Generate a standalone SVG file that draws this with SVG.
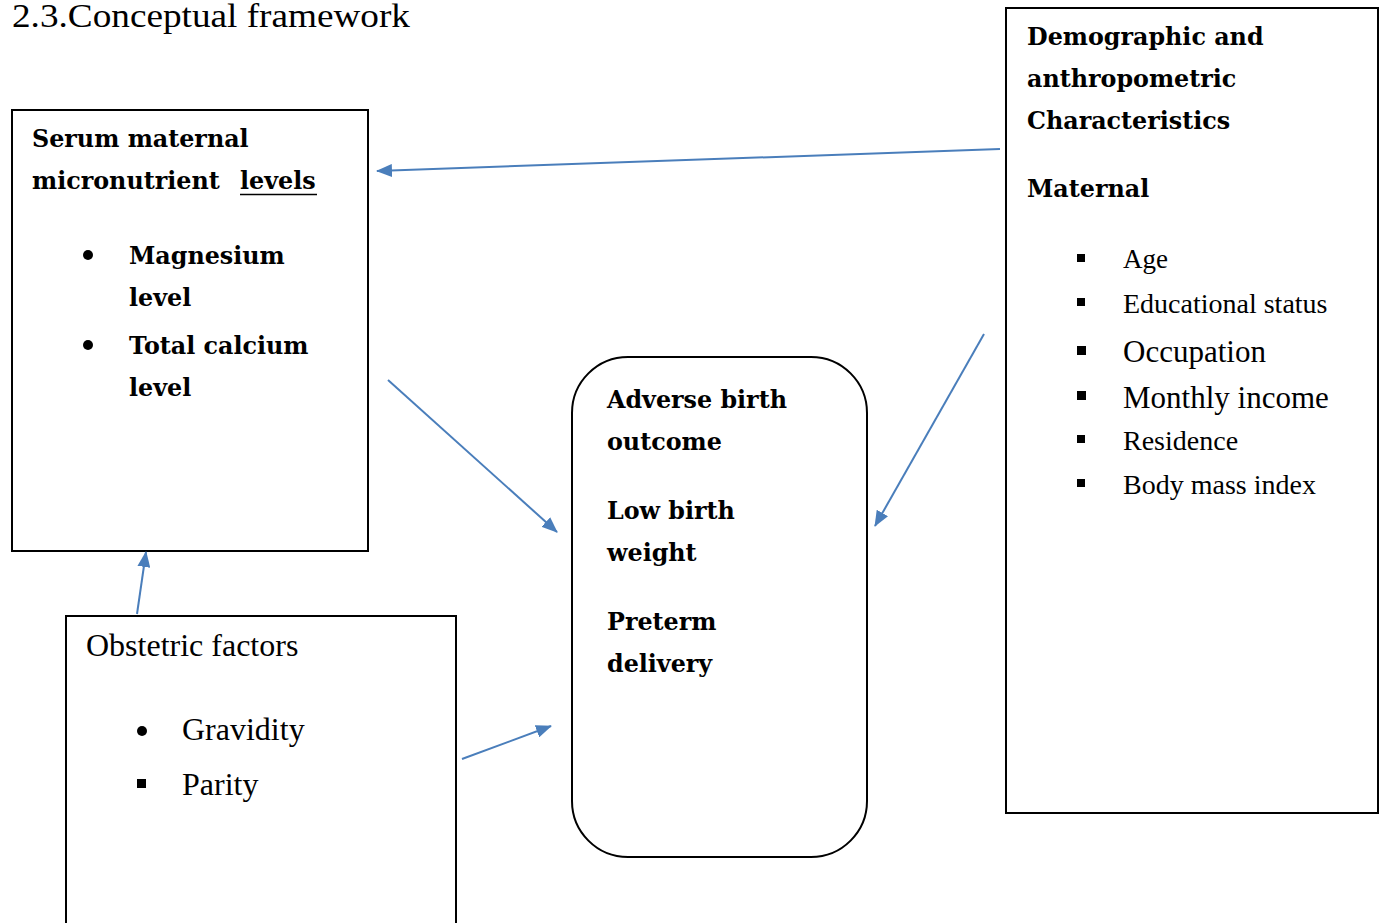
<svg xmlns="http://www.w3.org/2000/svg" width="1385" height="923" viewBox="0 0 1385 923">
<style>
.box{fill:#fff;stroke:#000;stroke-width:2}
.b{font-family:"DejaVu Serif","Liberation Serif",serif;font-weight:bold;font-size:23.8px;fill:#000}
.r{font-family:"Liberation Serif",serif;fill:#000}
.c{stroke:#4a7ebb;stroke-width:2;fill:none;marker-end:url(#ah)}
</style>
<defs>
<marker id="ah" markerUnits="userSpaceOnUse" markerWidth="16" markerHeight="13" refX="15" refY="6.5" orient="auto">
<path d="M0,0 L16,6.5 L0,13 z" fill="#4a7ebb"/>
</marker>
</defs>
<rect width="1385" height="923" fill="#fff"/>
<text x="12" y="27" class="r" font-size="33" textLength="398" lengthAdjust="spacingAndGlyphs">2.3.Conceptual framework</text>

<g id="serum">
<rect class="box" x="12" y="110" width="356" height="441"/>
<text class="b" x="32" y="147">Serum maternal</text>
<text class="b" x="32" y="189">micronutrient<tspan x="240">levels</tspan></text>
<line x1="240" y1="194.5" x2="317" y2="194.5" stroke="#000" stroke-width="1.5"/>
<circle cx="88" cy="255" r="5"/>
<text class="b" x="129" y="264">Magnesium</text>
<text class="b" x="129" y="306">level</text>
<circle cx="88" cy="345" r="5"/>
<text class="b" x="129" y="354">Total calcium</text>
<text class="b" x="129" y="396">level</text>
</g>

<g id="demographic">
<rect class="box" x="1006" y="8" width="372" height="805"/>
<text class="b" x="1027" y="45">Demographic and</text>
<text class="b" x="1027" y="87">anthropometric</text>
<text class="b" x="1027" y="129">Characteristics</text>
<text class="b" x="1027" y="197">Maternal</text>
<rect x="1077" y="254" width="8" height="8"/>
<text class="r" x="1123" y="268" font-size="27">Age</text>
<rect x="1077" y="298" width="8" height="8"/>
<text class="r" x="1123" y="313" font-size="28">Educational status</text>
<rect x="1077" y="346" width="9" height="9"/>
<text class="r" x="1123" y="362" font-size="31">Occupation</text>
<rect x="1077" y="391" width="9" height="9"/>
<text class="r" x="1123" y="408" font-size="31">Monthly income</text>
<rect x="1077" y="435" width="8" height="8"/>
<text class="r" x="1123" y="450" font-size="28">Residence</text>
<rect x="1077" y="479" width="8" height="8"/>
<text class="r" x="1123" y="494" font-size="28">Body mass index</text>
</g>

<g id="outcome">
<rect class="box" x="572" y="357" width="295" height="500" rx="56" ry="56"/>
<text class="b" x="607" y="408">Adverse birth</text>
<text class="b" x="607" y="450">outcome</text>
<text class="b" x="607" y="519">Low birth</text>
<text class="b" x="607" y="561">weight</text>
<text class="b" x="607" y="630">Preterm</text>
<text class="b" x="607" y="672">delivery</text>
</g>

<g id="obstetric">
<rect class="box" x="66" y="616" width="390" height="320"/>
<text class="r" x="86" y="656" font-size="32">Obstetric factors</text>
<circle cx="142" cy="731" r="5"/>
<text class="r" x="182" y="740" font-size="32">Gravidity</text>
<rect x="137" y="779" width="9" height="9"/>
<text class="r" x="182" y="795" font-size="32">Parity</text>
</g>

<g id="connectors">
<line class="c" x1="1000" y1="149" x2="377" y2="171"/>
<line class="c" x1="388" y1="380" x2="557" y2="532"/>
<line class="c" x1="984" y1="334" x2="875" y2="526"/>
<line class="c" x1="137" y1="614" x2="146" y2="552"/>
<line class="c" x1="462" y1="759" x2="551" y2="726"/>
</g>
</svg>
